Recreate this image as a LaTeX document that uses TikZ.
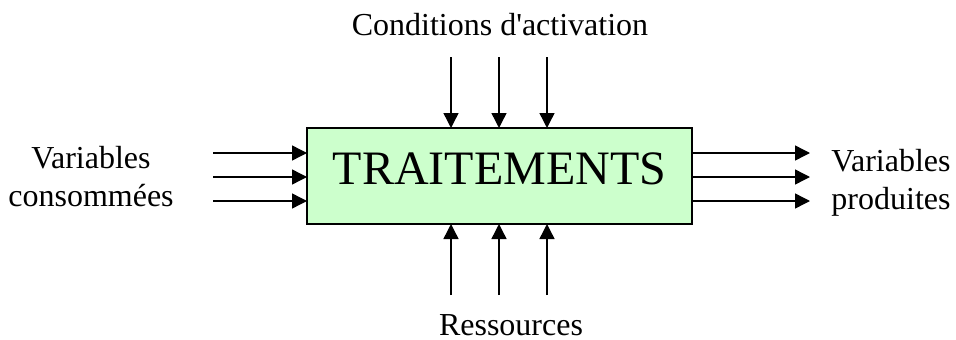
\documentclass[tikz,border=0pt]{standalone}
\usepackage{fontspec}
\setmainfont{Liberation Serif}
\usetikzlibrary{arrows.meta}
\definecolor{boxgreen}{HTML}{CCFFCC}
\tikzset{
  flow/.style={line width=1.4pt,-{Triangle[length=15pt,width=15pt]}},
  lbl/.style={font=\fontsize{32}{38}\selectfont,inner sep=0pt,align=center},
  procbox/.style={draw=black,line width=1.8pt,fill=boxgreen,minimum width=385pt,minimum height=96pt,inner sep=0pt,outer sep=0pt,
    font=\fontsize{48}{54}\selectfont,text height=34pt,text depth=18pt}
}
\begin{document}
\begin{tikzpicture}[x=1pt,y=-1pt]
\useasboundingbox (0,0) rectangle (956,340);
\node[procbox] (box) at (499.5,176) {TRAITEMENTS};
% labels
\node[lbl,anchor=base] (cond) at (500,35) {Conditions d\textquotesingle activation};
\node[lbl,anchor=base] (res) at (511,335) {Ressources};
\node[lbl] (vin) at (91,176.5) {Variables\\consommées};
\node[lbl] (vout) at (891,182.5) {Variables\\produites};
% arrow start/end points
\coordinate (t1) at (451,57);
\coordinate (t2) at (499,57);
\coordinate (t3) at (547,57);
\coordinate (b1) at (451,295);
\coordinate (b2) at (499,295);
\coordinate (b3) at (547,295);
\coordinate (l1) at (213,153);
\coordinate (l2) at (213,177);
\coordinate (l3) at (213,201);
\coordinate (r1) at (810,153);
\coordinate (r2) at (810,177);
\coordinate (r3) at (810,201);
\foreach \p in {t1,t2,t3} \draw[flow] (\p) -- (\p |- box.north);
\foreach \p in {b1,b2,b3} \draw[flow] (\p) -- (\p |- box.south);
\foreach \p in {l1,l2,l3} \draw[flow] (\p) -- (\p -| box.west);
\foreach \p in {r1,r2,r3} \draw[flow] (\p -| box.east) -- (\p);
\end{tikzpicture}
\end{document}
